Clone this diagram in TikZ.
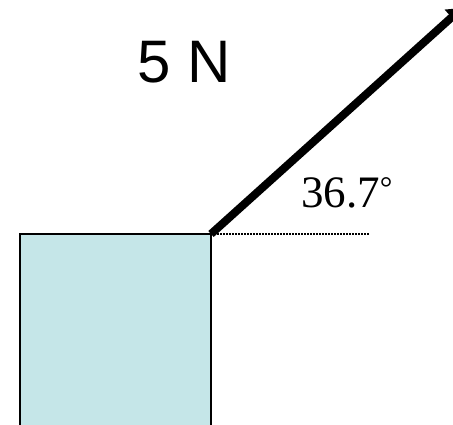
\documentclass[tikz,border=0pt]{standalone}
\usepackage{fontspec}
\setmainfont{Liberation Serif}
\newfontfamily\arialfont{Liberation Sans}
\usetikzlibrary{arrows.meta}
\definecolor{boxfill}{HTML}{C5E6E8}
\begin{document}
\begin{tikzpicture}[x=1pt,y=-1pt,
  blockstyle/.style={draw=black,line width=1.8pt,fill=boxfill},
  forcestyle/.style={line width=8pt,-{Triangle[length=14pt,width=20pt]}},
  refline/.style={line width=1.3pt,dash pattern=on 1.5pt off 1.5pt}]
\useasboundingbox (0,0) rectangle (453,425);
\clip (0,0) rectangle (453,425);
\draw[blockstyle] (20,234) rectangle (211,440);
\coordinate (corner) at (211,234);
\coordinate (tip) at (462,8);
\coordinate (refend) at (369,234);
\draw[forcestyle] (corner) -- (tip);
\draw[refline] (corner) -- (refend);
\node[font=\arialfont\fontsize{60}{64}\selectfont,inner sep=0pt,anchor=base] (force) at (184,83) {5 N};
\node[font=\fontsize{45}{50}\selectfont,inner sep=0pt,anchor=base west] (angle) at (301,208) {36.7\textsuperscript{°}};
\end{tikzpicture}
\end{document}
